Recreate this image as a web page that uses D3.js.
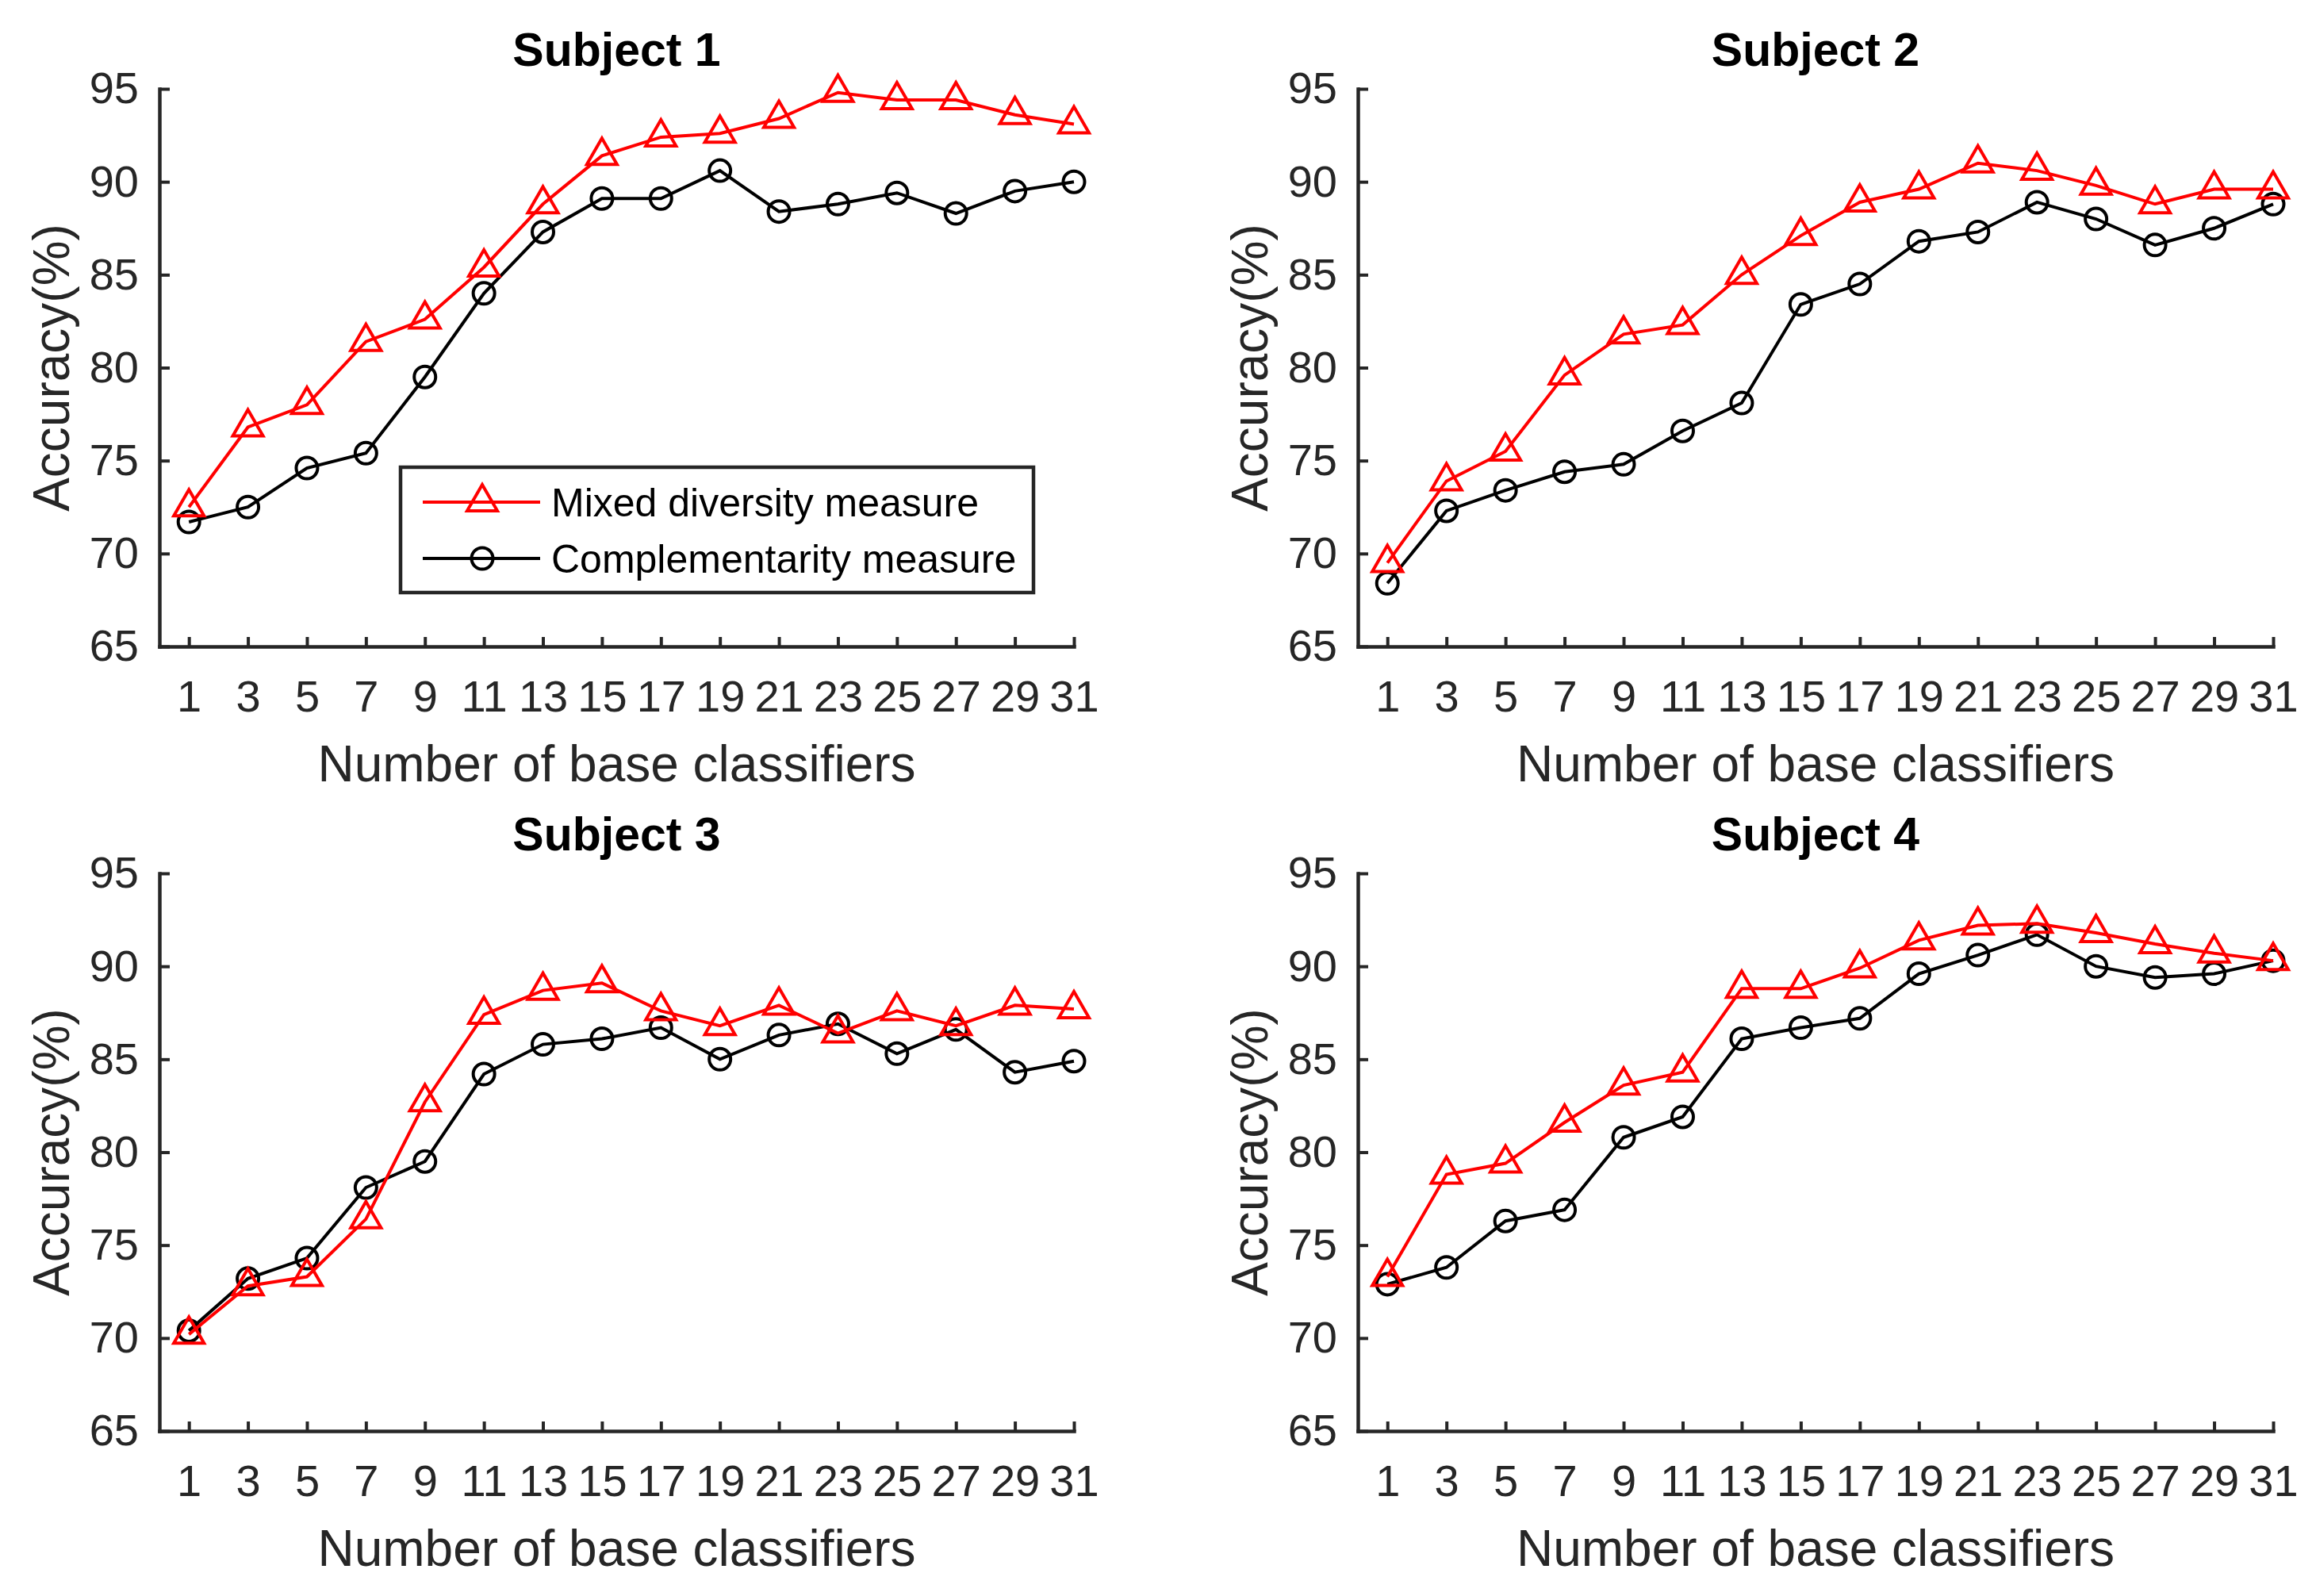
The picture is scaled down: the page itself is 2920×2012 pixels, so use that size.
<!DOCTYPE html>
<html>
<head>
<meta charset="utf-8">
<script src="https://cdn.jsdelivr.net/npm/d3@7"></script>
<style>
  body { margin: 0; background: #fff; }
  svg { display: block; font-family: "Liberation Sans", Arial, sans-serif; }
</style>
</head>
<body>
<svg id="chart" width="2920" height="2012"></svg>
<script>
// number of base classifiers
let classifiers = [1, 3, 5, 7, 9, 11, 13, 15, 17, 19, 21, 23, 25, 27, 29, 31];
let yTicks = [65, 70, 75, 80, 85, 90, 95];
let titles = ["Subject 1", "Subject 2", "Subject 3", "Subject 4"];
let seriesNames = ["Mixed diversity measure", "Complementarity measure"];

// mixed diversity measure (red triangles)
let mixed1 = [72.5, 76.8, 78.0, 81.4, 82.6, 85.4, 88.8, 91.4, 92.4, 92.6, 93.4, 94.8, 94.4, 94.4, 93.6, 93.1];
let mixed2 = [69.5, 73.9, 75.5, 79.6, 81.8, 82.3, 85.0, 87.1, 88.9, 89.6, 91.0, 90.6, 89.8, 88.8, 89.6, 89.6];
let mixed3 = [70.2, 72.8, 73.3, 76.4, 82.7, 87.4, 88.7, 89.1, 87.6, 86.8, 87.9, 86.4, 87.6, 86.8, 87.9, 87.7];
let mixed4 = [73.3, 78.8, 79.4, 81.6, 83.6, 84.3, 88.8, 88.8, 89.9, 91.4, 92.2, 92.3, 91.8, 91.2, 90.7, 90.3];

// complementarity measure (black circles)
let comp1 = [71.7, 72.5, 74.6, 75.4, 79.5, 84.0, 87.3, 89.1, 89.1, 90.6, 88.4, 88.8, 89.4, 88.3, 89.5, 90.0];
let comp2 = [68.4, 72.3, 73.4, 74.4, 74.8, 76.6, 78.1, 83.4, 84.5, 86.8, 87.3, 88.9, 88.0, 86.6, 87.5, 88.8];
let comp3 = [70.4, 73.2, 74.3, 78.1, 79.5, 84.2, 85.8, 86.1, 86.7, 85.0, 86.3, 86.9, 85.3, 86.6, 84.3, 84.9];
let comp4 = [72.9, 73.8, 76.3, 76.9, 80.8, 81.9, 86.1, 86.7, 87.2, 89.6, 90.6, 91.7, 90.0, 89.4, 89.6, 90.3];

let mixedAll = [mixed1, mixed2, mixed3, mixed4];
let compAll = [comp1, comp2, comp3, comp4];

const svg = d3.select("#chart");
svg.append("rect").attr("width", 2920).attr("height", 2012).attr("fill", "#fff");

const axisColor = "#262626";
const cols = [[201, 1354], [1712, 2866]];
const rows = [[112, 815], [1101, 1804]];

const tri = d3.symbol().type(d3.symbolTriangle).size(629);

titles.forEach((title, i) => {
    let [left, right] = cols[i % 2];
    let [top, bottom] = rows[Math.floor(i / 2)];

    let x = d3.scaleLinear().domain([0, 31]).range([left, right]);
    let y = d3.scaleLinear().domain([65, 95]).range([bottom, top]);

    let g = svg.append("g");

    // axes, MATLAB style ticks pointing inward
    let xAxis = g.append("g")
        .attr("transform", `translate(0,${bottom})`)
        .call(d3.axisBottom(x).tickValues(classifiers).tickSizeInner(-12).tickSizeOuter(0).tickPadding(42));
    let yAxis = g.append("g")
        .attr("transform", `translate(${left},0)`)
        .call(d3.axisLeft(y).tickValues(yTicks).tickSizeInner(-13).tickSizeOuter(0).tickPadding(26));

    [xAxis, yAxis].forEach(a => {
        a.attr("color", axisColor);
        a.select(".domain").attr("stroke-width", 4.5).attr("stroke-linecap", "square");
        a.selectAll(".tick line").attr("stroke-width", 4);
        a.selectAll(".tick text").attr("font-size", 56).attr("fill", axisColor)
            .attr("font-family", "Liberation Sans, Arial, sans-serif");
    });

    // title and axis labels
    g.append("text")
        .attr("x", (left + right) / 2).attr("y", top - 29)
        .attr("text-anchor", "middle").attr("font-size", 59).attr("font-weight", "bold")
        .attr("fill", "#000").text(title);

    g.append("text")
        .attr("x", (left + right) / 2).attr("y", bottom + 170)
        .attr("text-anchor", "middle").attr("font-size", 64)
        .attr("fill", axisColor).text("Number of base classifiers");

    g.append("text")
        .attr("transform", `translate(${left - 114},${(top + bottom) / 2}) rotate(-90)`)
        .attr("text-anchor", "middle").attr("font-size", 64)
        .attr("fill", axisColor).text("Accuracy(%)");

    let line = d3.line().x((d, j) => x(classifiers[j])).y(d => y(d));

    // complementarity measure
    g.append("path").datum(compAll[i])
        .attr("d", line).attr("fill", "none")
        .attr("stroke", "#000").attr("stroke-width", 4);
    g.selectAll(".circ").data(compAll[i]).enter()
        .append("circle")
        .attr("cx", (d, j) => x(classifiers[j]))
        .attr("cy", d => y(d))
        .attr("r", 13.5)
        .attr("fill", "none").attr("stroke", "#000").attr("stroke-width", 4);

    // mixed diversity measure
    g.append("path").datum(mixedAll[i])
        .attr("d", line).attr("fill", "none")
        .attr("stroke", "#ff0000").attr("stroke-width", 4);
    g.selectAll(".tri").data(mixedAll[i]).enter()
        .append("path")
        .attr("d", tri)
        .attr("transform", (d, j) => `translate(${x(classifiers[j])},${y(d)})`)
        .attr("fill", "none").attr("stroke", "#ff0000").attr("stroke-width", 4);
});

// legend, first panel only
let lg = svg.append("g");
lg.append("rect")
    .attr("x", 505).attr("y", 589).attr("width", 798).attr("height", 158)
    .attr("fill", "#fff").attr("stroke", axisColor).attr("stroke-width", 4.5);

seriesNames.forEach((name, k) => {
    let ly = 633 + k * 71;
    let col = k === 0 ? "#ff0000" : "#000";
    lg.append("line")
        .attr("x1", 533).attr("x2", 681).attr("y1", ly).attr("y2", ly)
        .attr("stroke", col).attr("stroke-width", 4);
    if (k === 0) {
        lg.append("path").attr("d", tri).attr("transform", `translate(608,${ly})`)
            .attr("fill", "none").attr("stroke", col).attr("stroke-width", 4);
    } else {
        lg.append("circle").attr("cx", 608).attr("cy", ly).attr("r", 13.5)
            .attr("fill", "none").attr("stroke", col).attr("stroke-width", 4);
    }
    lg.append("text")
        .attr("x", 695).attr("y", ly).attr("dy", "0.35em")
        .attr("font-size", 50).attr("fill", "#000").text(name);
});
</script>
</body>
</html>
